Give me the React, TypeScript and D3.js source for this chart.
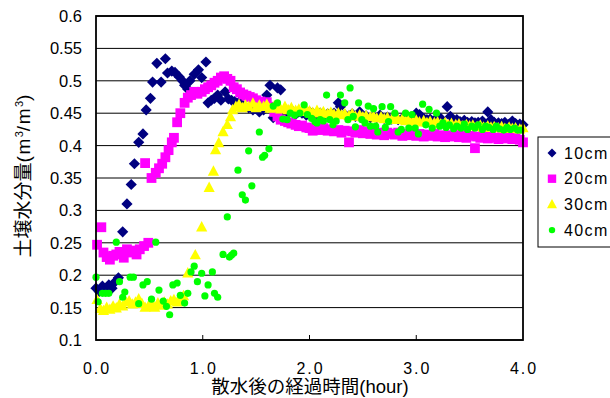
import React from "react";
import * as d3 from "d3";

const seriesNames = ["10cm", "20cm", "30cm", "40cm"];
const seriesColors = ["#000080", "#FF00FF", "#FFFF00", "#00FF00"];

const d10: [number, number][] = [
  [0.0,0.18],[0.03,0.175],[0.06,0.183],[0.09,0.178],[0.12,0.185],[0.15,0.18],[0.18,0.19],[0.21,0.196],
  [0.25,0.267],[0.29,0.31],[0.33,0.34],[0.36,0.372],[0.40,0.405],[0.44,0.418],[0.47,0.455],[0.51,0.473],
  [0.53,0.498],[0.57,0.527],[0.61,0.498],[0.65,0.534],[0.67,0.512],[0.71,0.515],[0.74,0.513],[0.78,0.506],
  [0.81,0.50],[0.83,0.493],[0.86,0.487],[0.88,0.50],[0.92,0.51],[0.96,0.517],[0.99,0.505],[1.03,0.529],
  [1.05,0.466],[1.08,0.47],[1.11,0.473],[1.14,0.478],[1.17,0.47],[1.21,0.483],[1.24,0.472],[1.27,0.47],
  [1.30,0.468],[1.34,0.467],[1.37,0.463],[1.40,0.46],[1.43,0.458],[1.47,0.455],[1.5,0.457],[1.53,0.452],
  [1.57,0.455],[1.6,0.478],[1.63,0.493],[1.66,0.443],[1.7,0.489],[1.73,0.486],[1.77,0.452],[1.8,0.45],
  [1.83,0.455],[1.87,0.448],[1.9,0.452],[1.93,0.45],[1.97,0.447],[2.0,0.452],[2.03,0.45],[2.07,0.448],
  [2.1,0.45],[2.13,0.446],[2.17,0.449],[2.2,0.447],[2.23,0.45],[2.27,0.466],[2.29,0.46],[2.33,0.448],
  [2.37,0.446],[2.4,0.449],[2.43,0.445],[2.47,0.452],[2.5,0.444],[2.53,0.446],[2.57,0.443],[2.6,0.445],
  [2.63,0.443],[2.66,0.447],[2.7,0.442],[2.73,0.444],[2.77,0.441],[2.8,0.443],[2.83,0.44],[2.87,0.442],
  [2.9,0.44],[2.93,0.441],[2.97,0.444],[3.0,0.45],[3.03,0.448],[3.07,0.442],[3.1,0.44],[3.13,0.441],
  [3.17,0.439],[3.2,0.44],[3.23,0.442],[3.29,0.46],[3.32,0.445],[3.35,0.438],[3.38,0.44],[3.41,0.437],
  [3.45,0.439],[3.48,0.436],[3.52,0.437],[3.55,0.435],[3.58,0.436],[3.62,0.438],[3.67,0.452],[3.7,0.44],
  [3.73,0.436],[3.77,0.435],[3.8,0.434],[3.83,0.436],[3.87,0.433],[3.9,0.438],[3.93,0.434],[3.97,0.433],
  [4.0,0.432]
];

const d20: [number, number][] = [
  [0.01,0.247],[0.05,0.274],[0.07,0.235],[0.1,0.228],[0.13,0.224],[0.16,0.23],[0.19,0.232],[0.22,0.236],
  [0.26,0.227],[0.29,0.24],[0.32,0.235],[0.35,0.238],[0.38,0.232],[0.41,0.24],[0.45,0.245],[0.46,0.373],
  [0.49,0.25],[0.52,0.35],[0.56,0.358],[0.59,0.365],[0.62,0.372],[0.65,0.382],[0.68,0.393],[0.71,0.405],
  [0.73,0.412],[0.76,0.436],[0.79,0.45],[0.83,0.466],[0.86,0.474],[0.89,0.478],[0.92,0.483],[0.95,0.48],
  [0.99,0.483],[1.02,0.487],[1.05,0.49],[1.08,0.493],[1.11,0.497],[1.14,0.50],[1.17,0.505],[1.2,0.507],
  [1.23,0.503],[1.26,0.50],[1.29,0.49],[1.32,0.487],[1.35,0.482],[1.38,0.479],[1.41,0.477],[1.44,0.475],
  [1.47,0.473],[1.5,0.47],[1.54,0.468],[1.57,0.466],[1.6,0.467],[1.63,0.46],[1.67,0.452],[1.7,0.445],
  [1.73,0.44],[1.77,0.438],[1.8,0.436],[1.83,0.434],[1.87,0.432],[1.9,0.43],[1.93,0.431],[1.97,0.428],
  [2.0,0.427],[2.03,0.423],[2.07,0.426],[2.1,0.424],[2.13,0.427],[2.17,0.423],[2.2,0.425],[2.23,0.422],
  [2.27,0.424],[2.3,0.42],[2.33,0.423],[2.37,0.405],[2.4,0.422],[2.43,0.42],[2.47,0.424],[2.5,0.419],
  [2.53,0.422],[2.57,0.418],[2.6,0.421],[2.63,0.417],[2.67,0.42],[2.7,0.416],[2.73,0.42],[2.77,0.418],
  [2.8,0.417],[2.83,0.42],[2.87,0.415],[2.9,0.418],[2.93,0.416],[2.97,0.419],[3.0,0.415],[3.03,0.418],
  [3.07,0.414],[3.1,0.417],[3.13,0.415],[3.17,0.418],[3.2,0.414],[3.23,0.416],[3.27,0.413],[3.3,0.416],
  [3.33,0.414],[3.37,0.417],[3.4,0.413],[3.43,0.415],[3.47,0.412],[3.5,0.415],[3.55,0.396],[3.57,0.414],
  [3.6,0.412],[3.63,0.415],[3.67,0.411],[3.7,0.414],[3.73,0.412],[3.77,0.41],[3.8,0.413],[3.83,0.411],
  [3.87,0.414],[3.9,0.41],[3.93,0.412],[3.97,0.409],[4.0,0.405]
];

const d30: [number, number][] = [
  [0.01,0.162],[0.04,0.148],[0.07,0.145],[0.1,0.15],[0.13,0.147],[0.16,0.152],[0.19,0.149],[0.22,0.155],
  [0.25,0.152],[0.28,0.158],[0.31,0.16],[0.34,0.155],[0.37,0.158],[0.4,0.163],[0.43,0.156],[0.46,0.15],
  [0.49,0.152],[0.52,0.155],[0.55,0.15],[0.58,0.157],[0.61,0.153],[0.64,0.158],[0.67,0.155],[0.7,0.16],
  [0.73,0.162],[0.76,0.158],[0.79,0.163],[0.82,0.168],[0.86,0.203],[0.93,0.231],[0.99,0.274],[1.06,0.335],
  [1.1,0.36],[1.12,0.393],[1.15,0.404],[1.19,0.421],[1.23,0.432],[1.26,0.444],[1.28,0.455],[1.31,0.46],
  [1.34,0.463],[1.37,0.458],[1.4,0.462],[1.43,0.46],[1.47,0.465],[1.5,0.458],[1.53,0.462],[1.57,0.46],
  [1.6,0.463],[1.63,0.457],[1.67,0.461],[1.7,0.458],[1.73,0.456],[1.77,0.46],[1.8,0.455],[1.83,0.458],
  [1.87,0.454],[1.9,0.456],[1.93,0.452],[1.97,0.455],[2.0,0.453],[2.03,0.451],[2.07,0.454],[2.1,0.45],
  [2.13,0.452],[2.17,0.449],[2.2,0.451],[2.23,0.448],[2.27,0.45],[2.3,0.447],[2.33,0.449],[2.37,0.446],
  [2.4,0.449],[2.43,0.445],[2.47,0.447],[2.5,0.444],[2.53,0.446],[2.57,0.444],[2.6,0.445],[2.63,0.442],
  [2.67,0.444],[2.7,0.441],[2.73,0.443],[2.77,0.44],[2.8,0.443],[2.83,0.44],[2.87,0.441],[2.9,0.438],
  [2.93,0.44],[2.97,0.437],[3.0,0.439],[3.03,0.436],[3.07,0.438],[3.1,0.435],[3.13,0.437],[3.17,0.435],
  [3.2,0.436],[3.23,0.433],[3.27,0.435],[3.3,0.432],[3.33,0.434],[3.37,0.432],[3.4,0.433],[3.43,0.43],
  [3.47,0.432],[3.5,0.43],[3.53,0.431],[3.57,0.429],[3.6,0.431],[3.63,0.428],[3.67,0.43],[3.7,0.428],
  [3.73,0.429],[3.77,0.427],[3.8,0.429],[3.83,0.426],[3.87,0.428],[3.9,0.426],[3.93,0.427],[3.97,0.425],
  [4.0,0.427]
];

const d40: [number, number][] = [
  [0.0,0.197],[0.02,0.159],[0.06,0.172],[0.09,0.172],[0.12,0.172],[0.19,0.251],[0.22,0.19],[0.25,0.166],
  [0.27,0.174],[0.32,0.197],[0.35,0.197],[0.4,0.156],[0.44,0.185],[0.48,0.19],[0.52,0.163],[0.56,0.251],
  [0.59,0.177],[0.63,0.16],[0.66,0.152],[0.69,0.139],[0.72,0.185],[0.76,0.188],[0.79,0.169],[0.83,0.157],
  [0.86,0.172],[0.89,0.205],[0.92,0.214],[0.95,0.19],[0.99,0.203],[1.02,0.168],[1.05,0.185],[1.09,0.205],
  [1.11,0.172],[1.14,0.166],[1.19,0.232],[1.23,0.29],[1.25,0.228],[1.27,0.231],[1.29,0.234],[1.33,0.362],
  [1.37,0.324],[1.4,0.316],[1.43,0.392],[1.46,0.338],[1.53,0.421],[1.56,0.382],[1.58,0.385],[1.62,0.395],
  [1.66,0.461],[1.7,0.466],[1.75,0.441],[1.79,0.44],[1.82,0.45],[1.86,0.447],[1.91,0.45],[1.95,0.463],
  [1.98,0.448],[2.02,0.442],[2.05,0.437],[2.07,0.435],[2.1,0.44],[2.13,0.438],[2.16,0.478],[2.19,0.44],
  [2.22,0.432],[2.25,0.438],[2.29,0.478],[2.33,0.466],[2.36,0.44],[2.38,0.489],[2.41,0.445],[2.43,0.429],
  [2.46,0.466],[2.49,0.44],[2.52,0.435],[2.55,0.461],[2.57,0.43],[2.6,0.457],[2.62,0.43],[2.64,0.421],
  [2.68,0.46],[2.71,0.428],[2.74,0.437],[2.76,0.46],[2.8,0.45],[2.83,0.421],[2.86,0.425],[2.9,0.45],
  [2.93,0.427],[2.96,0.448],[2.99,0.427],[3.02,0.418],[3.06,0.464],[3.09,0.432],[3.12,0.456],[3.15,0.427],
  [3.19,0.45],[3.22,0.43],[3.25,0.435],[3.28,0.428],[3.31,0.432],[3.35,0.426],[3.38,0.43],[3.42,0.427],
  [3.45,0.433],[3.48,0.425],[3.52,0.43],[3.55,0.427],[3.58,0.432],[3.62,0.425],[3.65,0.43],[3.68,0.428],
  [3.72,0.425],[3.75,0.43],[3.78,0.426],[3.82,0.424],[3.85,0.428],[3.88,0.425],[3.92,0.427],[3.95,0.424],
  [3.98,0.424]
];

const xTicks = [0, 1, 2, 3, 4];
const yTicks = [0.1, 0.15, 0.2, 0.25, 0.3, 0.35, 0.4, 0.45, 0.5, 0.55, 0.6];

const FONT = "'Liberation Sans', Arial, 'Noto Sans CJK JP', sans-serif";

function markerPath(kind: number, s: number): string {
  if (kind === 0) return `M0,${-s}L${s},0L0,${s}L${-s},0Z`;
  if (kind === 1) return `M${-s},${-s}H${s}V${s}H${-s}Z`;
  if (kind === 2) return `M0,${-s * 1.1}L${s},${s * 0.75}L${-s},${s * 0.75}Z`;
  return "";
}

export default function App() {
  const W = 610, H = 398;
  const left = 96, right = 523, top = 16, bottom = 340;
  const x = d3.scaleLinear().domain([0, 4]).range([left, right]);
  const y = d3.scaleLinear().domain([0.1, 0.6]).range([bottom, top]);
  const all = [d10, d20, d30, d40];
  const sizes = [5.6, 4.9, 5.6, 3.6];
  const legSizes = [4.5, 4.2, 5, 3.2];

  return (
    <svg width={W} height={H} style={{ position: "absolute", left: 0, top: 0, background: "#fff" }} fontFamily={FONT}>
      <rect x={0} y={0} width={W} height={H} fill="#fff" />
      {yTicks.map((t) => (
        <line key={"g" + t} x1={left} x2={right} y1={y(t)} y2={y(t)} stroke="#000" strokeWidth={1} />
      ))}
      {xTicks.slice(1, -1).map((t) => (
        <line key={"xt" + t} x1={x(t)} x2={x(t)} y1={bottom} y2={bottom - 5} stroke="#000" strokeWidth={1} />
      ))}
      {all.map((ser, si) => (
        <g key={"s" + si} fill={seriesColors[si]}>
          {ser.map(([t, v], i) =>
            si === 3 ? (
              <circle key={i} cx={x(t)} cy={y(v)} r={sizes[si]} />
            ) : (
              <path key={i} d={markerPath(si, sizes[si])} transform={`translate(${x(t)},${y(v)})`} />
            )
          )}
        </g>
      ))}
      <rect x={left} y={top} width={right - left} height={bottom - top} fill="none" stroke="#000" strokeWidth={1.8} />
      {yTicks.map((t) => (
        <text key={"yl" + t} x={82} y={y(t)} dy="0.36em" textAnchor="end" fontSize={16.5}>
          {String(t)}
        </text>
      ))}
      {xTicks.map((t) => (
        <text key={"xl" + t} x={x(t) + 1} y={374} textAnchor="middle" fontSize={16} letterSpacing={2}>
          {t.toFixed(1)}
        </text>
      ))}
      <text x={310} y={393} textAnchor="middle" fontSize={18.5}>
        散水後の経過時間(hour)
      </text>
      <text transform="translate(30,176) rotate(-90)" textAnchor="middle" fontSize={19}>
        土壌水分量<tspan letterSpacing={1.5}>(m</tspan>
        <tspan dy={-7} fontSize={11}>3</tspan>
        <tspan dy={7} letterSpacing={1.5}>/m</tspan>
        <tspan dy={-7} fontSize={11}>3</tspan>
        <tspan dy={7}>)</tspan>
      </text>
      <rect x={538} y={137} width={80} height={110} fill="#fff" stroke="#000" strokeWidth={1} />
      {seriesNames.map((n, si) => {
        const ly = 153 + si * 25.7;
        return (
          <g key={"lg" + si}>
            {si === 3 ? (
              <circle cx={552} cy={ly} r={legSizes[si]} fill={seriesColors[si]} />
            ) : (
              <path d={markerPath(si, legSizes[si])} transform={`translate(552,${ly})`} fill={seriesColors[si]} />
            )}
            <text x={564} y={ly} dy="0.36em" fontSize={16} letterSpacing={1.4}>
              {n}
            </text>
          </g>
        );
      })}
    </svg>
  );
}
